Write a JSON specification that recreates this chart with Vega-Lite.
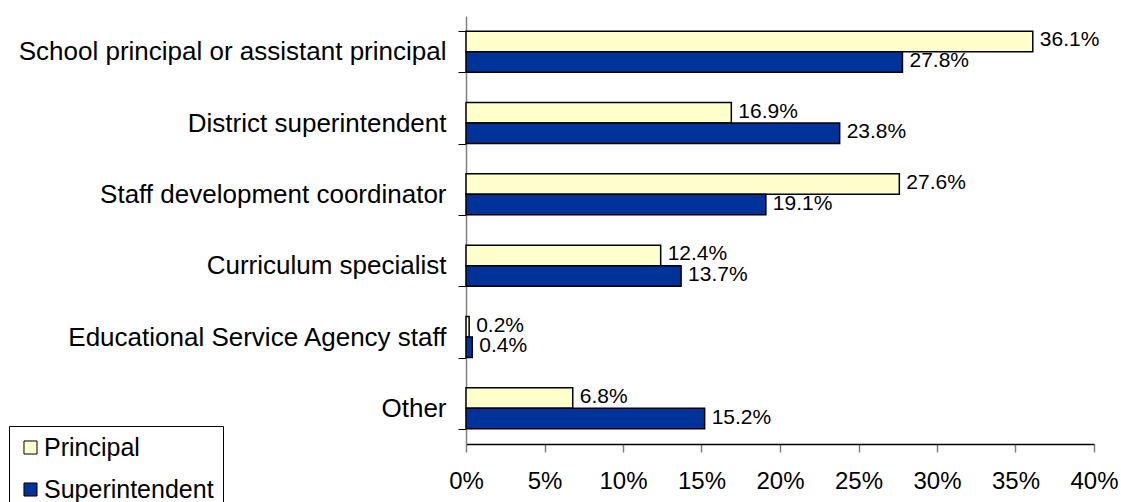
{
  "$schema": "https://vega.github.io/schema/vega-lite/v6.json",
  "width": 628,
  "height": 428,
  "autosize": {"type": "none"},
  "padding": {"left": 466, "top": 16, "right": 27, "bottom": 58},
  "background": "white",
  "config": {"view": {"stroke": null}, "font": "Liberation Sans"},
  "data": {
    "values": [
      {"category": "School principal or assistant principal", "group": "Principal", "value": 0.361},
      {"category": "School principal or assistant principal", "group": "Superintendent", "value": 0.278},
      {"category": "District superintendent", "group": "Principal", "value": 0.169},
      {"category": "District superintendent", "group": "Superintendent", "value": 0.238},
      {"category": "Staff development coordinator", "group": "Principal", "value": 0.276},
      {"category": "Staff development coordinator", "group": "Superintendent", "value": 0.191},
      {"category": "Curriculum specialist", "group": "Principal", "value": 0.124},
      {"category": "Curriculum specialist", "group": "Superintendent", "value": 0.137},
      {"category": "Educational Service Agency staff", "group": "Principal", "value": 0.002},
      {"category": "Educational Service Agency staff", "group": "Superintendent", "value": 0.004},
      {"category": "Other", "group": "Principal", "value": 0.068},
      {"category": "Other", "group": "Superintendent", "value": 0.152}
    ]
  },
  "encoding": {
    "y": {
      "field": "category", "type": "nominal", "sort": null, "title": null,
      "scale": {"paddingInner": 0.425, "paddingOuter": 0.2125},
      "axis": {"tickBand": "extent", "tickSize": 8, "labelPadding": 12, "labelFontSize": 26, "labelColor": "black", "domainColor": "#808080", "domainWidth": 1.5, "tickColor": "black", "labelLimit": 0, "grid": false}
    },
    "yOffset": {"field": "group", "type": "nominal", "sort": ["Principal", "Superintendent"], "scale": {"paddingInner": 0, "paddingOuter": 0}},
    "x": {
      "field": "value", "type": "quantitative", "title": null,
      "scale": {"domain": [0, 0.4], "nice": false},
      "axis": {"values": [0, 0.05, 0.1, 0.15, 0.2, 0.25, 0.3, 0.35, 0.4], "format": ".0%", "labelFlush": false, "labelOverlap": false, "tickSize": 8, "labelPadding": 17, "labelFontSize": 24, "labelColor": "black", "domainColor": "black", "domainWidth": 1.5, "tickColor": "#808080", "tickWidth": 1.5, "grid": false}
    }
  },
  "layer": [
    {
      "mark": {"type": "bar", "stroke": "black", "strokeWidth": 1.5},
      "encoding": {
        "color": {
          "field": "group", "type": "nominal",
          "scale": {"domain": ["Principal", "Superintendent"], "range": ["#FFFFCC", "#003399"]},
          "legend": {"orient": "none", "legendX": -457, "legendY": 410, "title": null, "strokeColor": "black", "fillColor": "white", "padding": 9, "symbolType": "square", "symbolSize": 170, "symbolStrokeColor": "black", "symbolStrokeWidth": 1, "symbolOpacity": 1, "labelFontSize": 25, "labelOffset": 1, "labelLimit": 400, "rowPadding": 16, "labelColor": "black"}
        }
      }
    },
    {
      "mark": {"type": "text", "align": "left", "dx": 7, "dy": -1, "fontSize": 21, "baseline": "middle", "color": "black"},
      "encoding": {"text": {"field": "value", "type": "quantitative", "format": ".1%"}}
    }
  ]
}
